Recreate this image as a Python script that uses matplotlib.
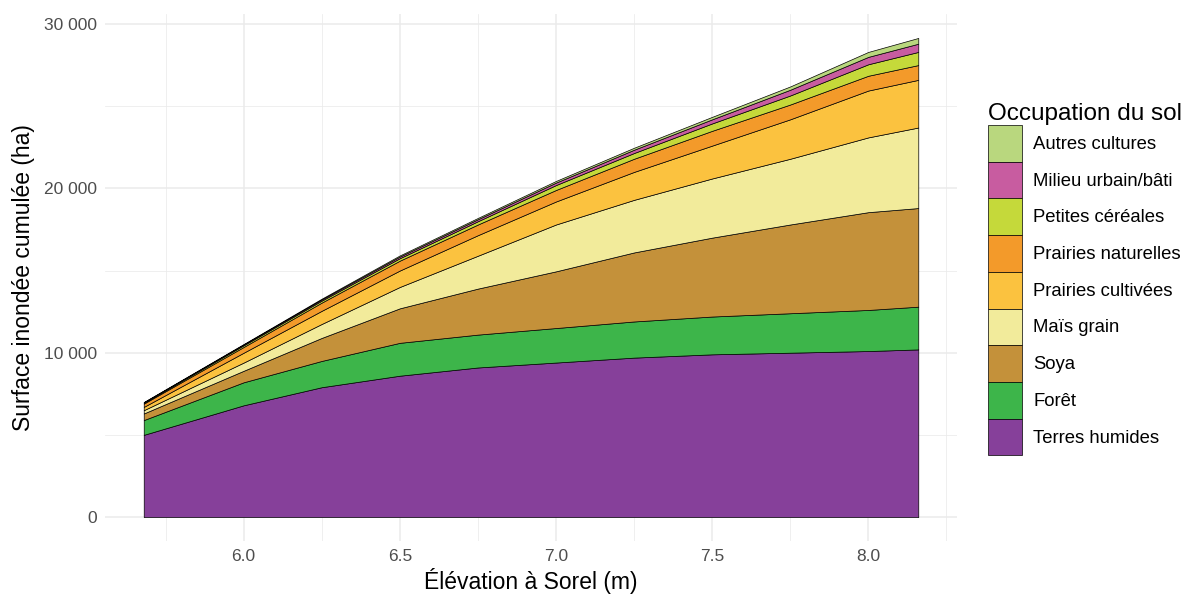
import matplotlib
matplotlib.use("Agg")
import matplotlib.pyplot as plt
from matplotlib.patches import Patch
from matplotlib.ticker import FuncFormatter, MultipleLocator

plt.rcParams['font.family'] = ['Liberation Sans', 'DejaVu Sans']

# Élévation à Sorel (m)
elevation = [5.68, 6.0, 6.25, 6.5, 6.75, 7.0, 7.25, 7.5, 7.75, 8.0, 8.16]

# surface inondée par classe (ha), de bas en haut de la pile
terres_humides = [5000, 6800, 7900, 8600, 9100, 9400, 9700, 9900, 10000, 10100, 10200]
foret = [900, 1400, 1600, 2000, 2000, 2100, 2200, 2300, 2400, 2500, 2600]
soya = [400, 700, 1400, 2100, 2800, 3450, 4200, 4800, 5400, 5950, 6000]
mais_grain = [200, 500, 850, 1300, 2000, 2850, 3200, 3600, 4000, 4550, 4900]
prairies_cultivees = [200, 600, 800, 1000, 1250, 1400, 1700, 2000, 2400, 2850, 2900]
prairies_naturelles = [200, 350, 500, 600, 650, 700, 800, 900, 900, 900, 900]
petites_cereales = [50, 100, 120, 150, 200, 300, 350, 450, 550, 700, 800]
milieu_urbain = [30, 50, 70, 100, 120, 150, 200, 250, 350, 450, 500]
autres_cultures = [20, 30, 50, 70, 80, 100, 120, 150, 200, 300, 350]

classes = ["Terres humides", "Forêt", "Soya", "Maïs grain", "Prairies cultivées",
           "Prairies naturelles", "Petites céréales", "Milieu urbain/bâti", "Autres cultures"]
couleurs = ["#86409A", "#3DB54A", "#C4913A", "#F2EB9B", "#FBC23F",
            "#F39A2A", "#C5D93A", "#C85CA0", "#B9D77E"]
series = [terres_humides, foret, soya, mais_grain, prairies_cultivees,
          prairies_naturelles, petites_cereales, milieu_urbain, autres_cultures]

fig = plt.figure(figsize=(11.89, 5.98), dpi=100)
ax = fig.add_axes([105 / 1189, 1 - 541 / 598, (957 - 105) / 1189, (541 - 14) / 598])

ax.stackplot(elevation, *series, colors=couleurs, edgecolor="black", linewidth=0.5, zorder=3)

total_max = max(sum(s[i] for s in series) for i in range(len(elevation)))
dx = (elevation[-1] - elevation[0]) * 0.05
ax.set_xlim(elevation[0] - dx, elevation[-1] + dx)
ax.set_ylim(-total_max * 0.05, total_max * 1.05)

ax.xaxis.set_major_locator(MultipleLocator(0.5))
ax.xaxis.set_minor_locator(MultipleLocator(0.25))
ax.yaxis.set_major_locator(MultipleLocator(10000))
ax.yaxis.set_minor_locator(MultipleLocator(5000))
ax.xaxis.set_major_formatter(FuncFormatter(lambda v, p: f"{v:.1f}"))
ax.yaxis.set_major_formatter(FuncFormatter(lambda v, p: f"{int(v):,}".replace(",", " ")))

ax.grid(which="major", color="#EBEBEB", linewidth=1.1, zorder=0)
ax.grid(which="minor", color="#EBEBEB", linewidth=0.55, zorder=0)
ax.set_axisbelow(True)
for s in ax.spines.values():
    s.set_visible(False)
ax.tick_params(which="both", length=0, labelsize=12.5, labelcolor="#4D4D4D", pad=6)

ax.set_xlabel("Élévation à Sorel (m)", fontsize=16.5, labelpad=3)
ax.set_ylabel("Surface inondée cumulée (ha)", fontsize=16.5, labelpad=6)

handles = [Patch(facecolor=c, edgecolor="black", linewidth=0.5) for c in couleurs][::-1]
leg = fig.legend(handles, classes[::-1], loc="upper left",
                 bbox_to_anchor=(988 / 1189, 1 - 103 / 598), frameon=False,
                 title="Occupation du sol", title_fontsize=17.5, fontsize=13.3,
                 handlelength=1.85, handleheight=2.68, labelspacing=0,
                 handletextpad=0.6, borderpad=0, borderaxespad=0, alignment="left")

fig.savefig("out.png", dpi=100)
